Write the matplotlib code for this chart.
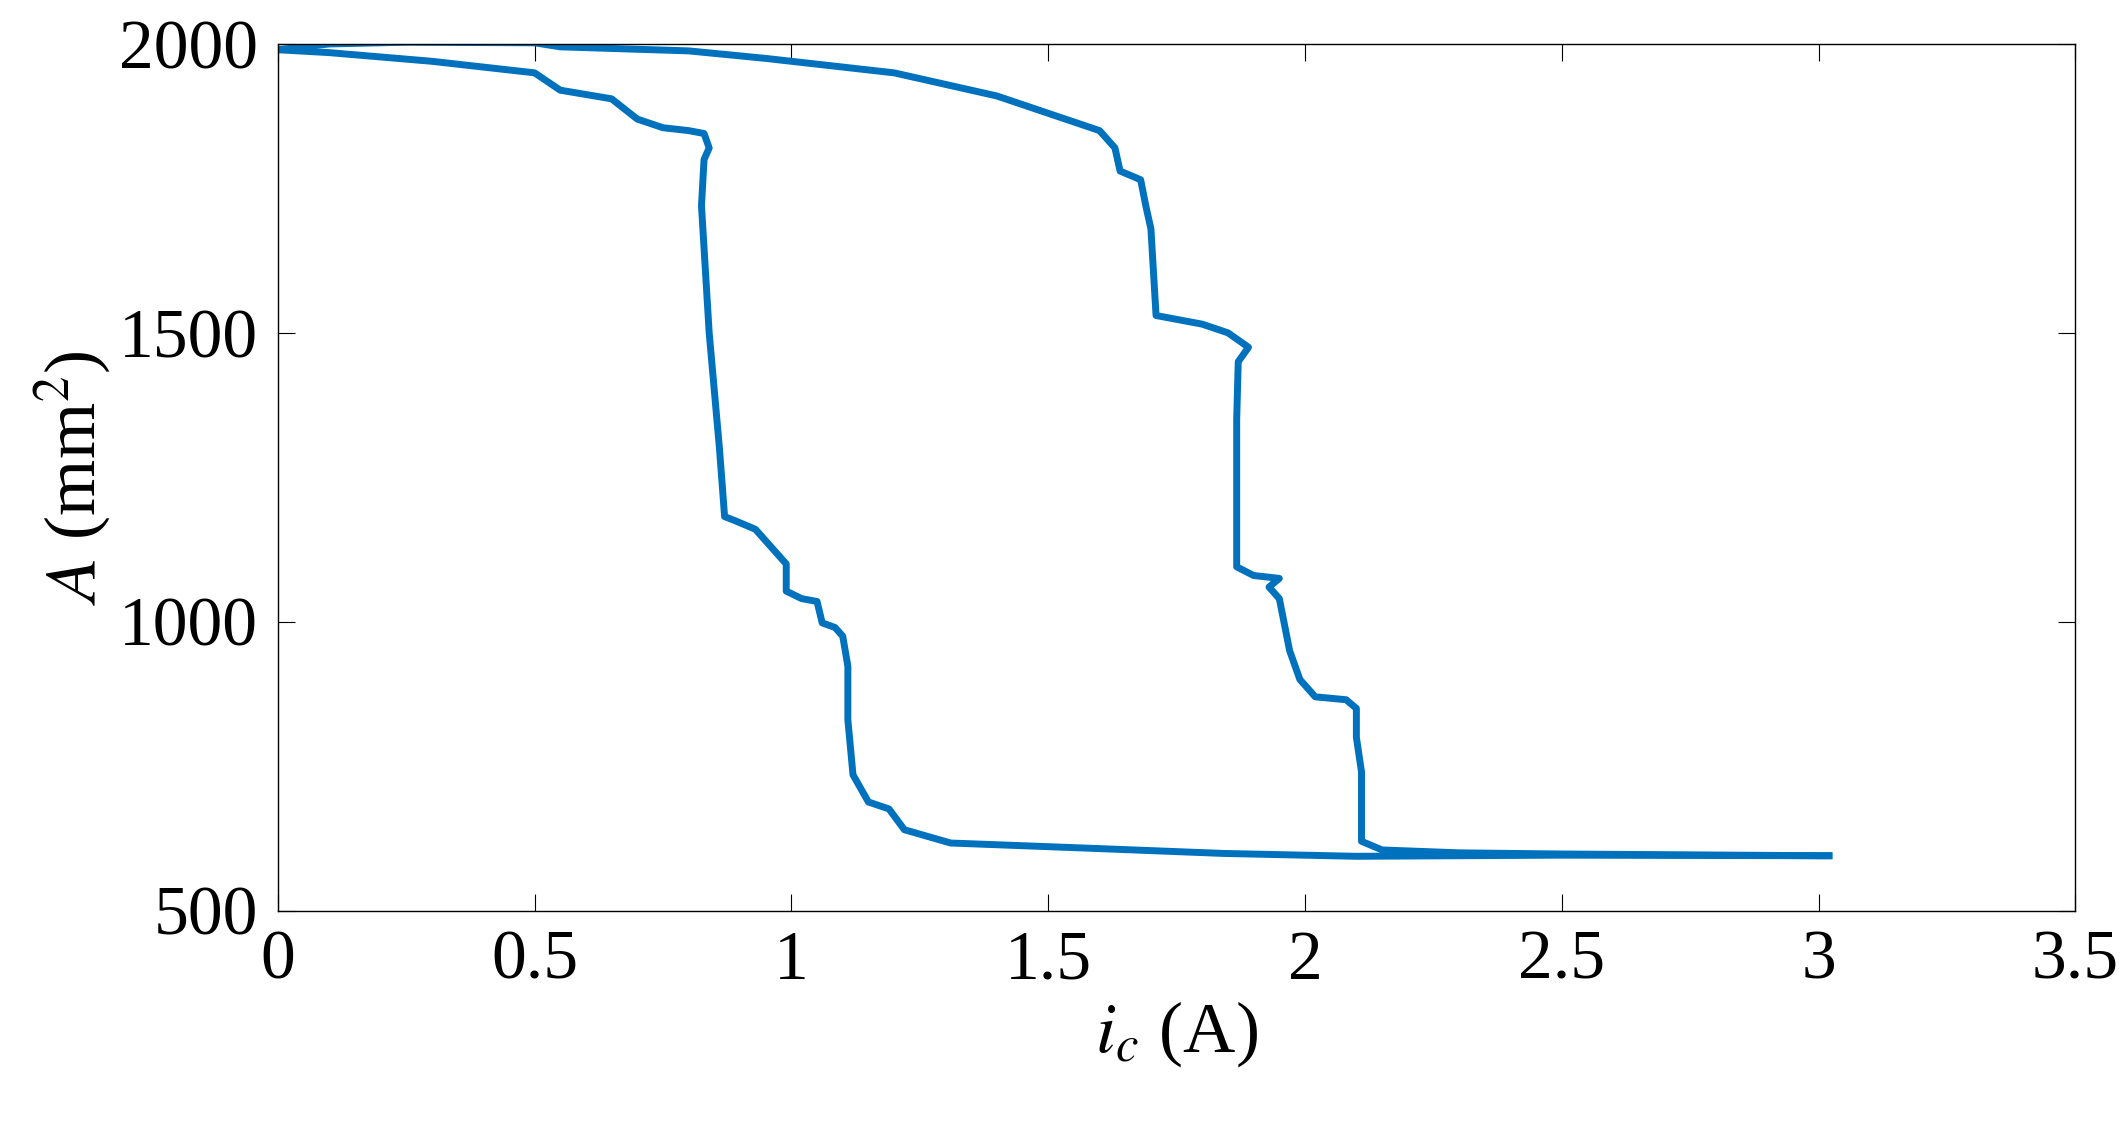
import matplotlib.pyplot as plt

# %% Données
ic_bas = [0, 0.1, 0.3, 0.5, 0.55, 0.65, 0.7, 0.75, 0.8, 0.83, 0.84, 0.83, 0.825, 0.84, 0.86, 0.87,
          0.89, 0.93, 0.97, 0.99, 0.99, 1.02, 1.05, 1.06, 1.085, 1.1, 1.11, 1.11, 1.12, 1.15, 1.19,
          1.22, 1.31, 1.58, 1.84, 2.1, 2.5, 3.0, 3.02]
A_bas = [1990, 1985, 1970, 1950, 1920, 1905, 1870, 1855, 1850, 1845, 1820, 1800, 1720, 1500, 1300, 1182,
         1175, 1160, 1120, 1100, 1053, 1040, 1035, 998, 990, 975, 923, 830, 735, 688, 676,
         640, 617, 608, 599, 594, 596, 595, 595]

ic_haut = [0, 0.1, 0.25, 0.5, 0.55, 0.8, 0.95, 1.2, 1.4, 1.5, 1.6, 1.63, 1.64, 1.68, 1.69, 1.70,
           1.71, 1.8, 1.85, 1.89, 1.87, 1.867, 1.867, 1.9, 1.95, 1.93, 1.95, 1.97, 1.99, 2.02,
           2.08, 2.1, 2.1, 2.11, 2.11, 2.15, 2.3, 2.5, 3.0, 3.02]
A_haut = [1990, 2000, 2003, 2002, 1995, 1988, 1975, 1950, 1910, 1880, 1850, 1820, 1780, 1765, 1720, 1680,
          1530, 1515, 1500, 1475, 1450, 1350, 1095, 1080, 1075, 1060, 1040, 950, 900, 870,
          865, 850, 800, 740, 620, 605, 600, 598, 595, 595]

# %% Tracé
plt.rcParams['font.family'] = ['Liberation Serif', 'DejaVu Serif']
plt.rcParams['mathtext.fontset'] = 'stix'

fig = plt.figure(figsize=(21.2, 11.27), dpi=100)
ax = fig.add_axes([0.131, 0.192, 0.848, 0.769])
ax.plot(ic_bas, A_bas, color='#0072BD', lw=5)
ax.plot(ic_haut, A_haut, color='#0072BD', lw=5)
ax.set_xlim(0, 3.5)
ax.set_ylim(500, 2000)
ax.set_xticks([0, 0.5, 1, 1.5, 2, 2.5, 3, 3.5])
ax.set_xticklabels(['0', '0.5', '1', '1.5', '2', '2.5', '3', '3.5'])
ax.set_yticks([500, 1000, 1500, 2000])
ax.tick_params(direction='in', top=True, right=True, labelsize=50, length=12, pad=14)
for s in ax.spines.values():
    s.set_linewidth(1)
ax.set_xlabel(r'$i_c$ (A)', fontsize=52)
ax.set_ylabel(r'$A$ (mm$^2$)', fontsize=52)
fig.savefig('out.png')
